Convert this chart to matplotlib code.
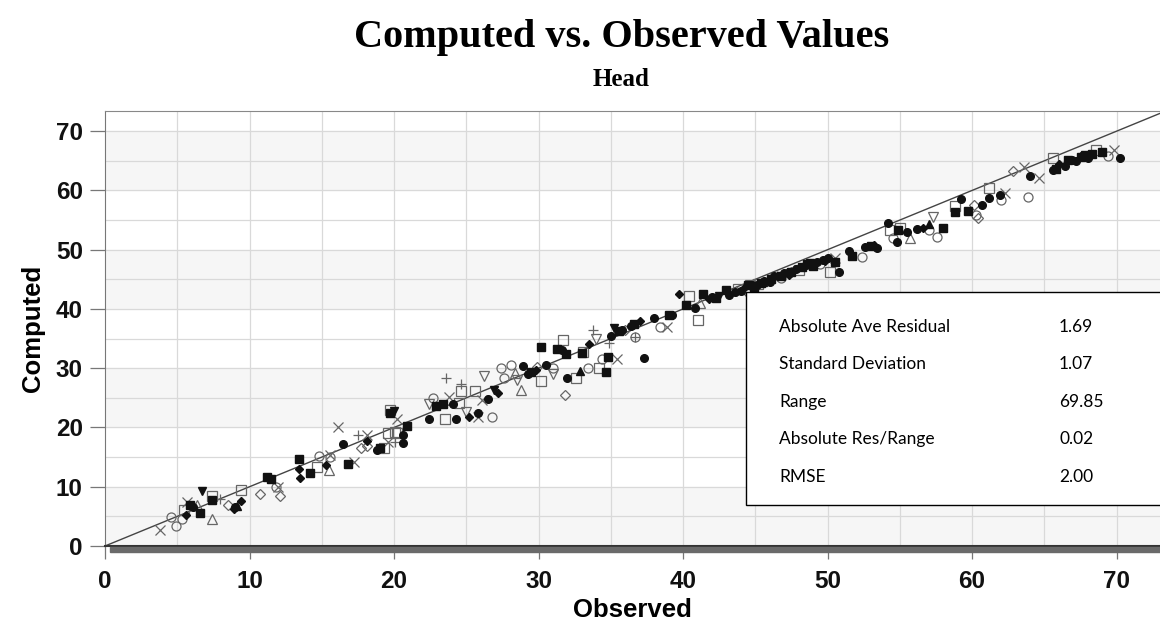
import matplotlib
matplotlib.use('Agg')
import matplotlib.pyplot as plt
from matplotlib.patches import Rectangle

# observed / computed heads, grouped by marker symbol as in the original plot
fc_obs = [6.1, 9.0, 16.5, 18.8, 20.6, 20.6, 22.4, 24.3, 24.1, 25.8, 26.5, 28.9, 29.3, 30.5, 32.0, 31.6,
          35.0, 35.8, 36.4, 37.3, 38.0, 39.2, 40.8, 42.0, 43.2, 44.0, 44.8, 45.6, 46.3, 47.0, 47.8, 48.5,
          49.3, 50.0, 50.8, 51.5, 52.6, 53.4, 54.2, 54.8, 55.5, 56.2, 59.2, 60.7, 61.2, 61.9, 64.0, 65.6,
          66.4, 67.2, 68.0, 70.2, 43.6, 45.1, 46.0, 47.3, 48.9, 49.7, 66.9, 67.7]
fc_comp = [6.6, 6.5, 17.2, 16.2, 18.7, 17.4, 21.4, 21.4, 23.9, 22.5, 24.8, 30.4, 29.0, 30.6, 28.3, 33.0,
           35.5, 36.5, 37.2, 31.8, 38.4, 39.0, 40.2, 42.0, 42.3, 43.0, 44.1, 44.7, 45.5, 46.0, 46.8, 47.4,
           48.0, 48.6, 46.3, 49.7, 50.5, 50.2, 54.5, 51.3, 53.0, 53.5, 58.6, 57.5, 58.8, 59.2, 62.4, 63.5,
           64.2, 65.0, 65.5, 65.5, 42.9, 44.0, 44.6, 46.3, 47.6, 48.3, 65.1, 65.9]

fs_obs = [5.9, 6.6, 7.4, 11.2, 11.5, 13.4, 14.2, 16.8, 19.0, 19.7, 20.9, 22.9, 23.4, 29.5, 30.2, 31.3,
          31.9, 33.0, 34.7, 34.8, 35.6, 36.6, 39.0, 40.2, 41.4, 43.0, 44.5, 45.4, 46.8, 47.5, 48.2, 49.0,
          50.5, 51.7, 53.0, 54.9, 58.0, 58.8, 59.7, 65.8, 66.6, 67.5, 68.3, 69.0, 42.3, 44.9, 46.1, 48.6]
fs_comp = [6.9, 5.5, 7.8, 11.6, 11.3, 14.7, 12.4, 13.8, 16.6, 22.4, 20.3, 23.6, 23.9, 29.3, 33.6, 33.2,
           32.4, 32.6, 29.4, 31.9, 36.2, 37.5, 38.9, 40.6, 42.6, 43.2, 44.1, 44.3, 45.6, 46.2, 47.0, 47.2,
           48.0, 49.0, 50.6, 53.3, 53.6, 56.4, 56.5, 63.6, 65.2, 65.7, 66.2, 66.5, 41.8, 43.6, 45.0, 47.5]

fd_obs = [5.6, 8.9, 9.4, 13.4, 13.5, 15.3, 18.1, 25.2, 27.2, 29.8, 33.5, 37.0, 39.7, 41.8, 44.2, 46.0,
          47.3, 49.8, 53.2, 56.6, 66.0]
fd_comp = [5.2, 6.3, 7.6, 13.0, 11.5, 13.7, 17.7, 21.8, 25.8, 29.7, 34.1, 38.0, 42.5, 41.6, 43.5, 45.0,
           45.7, 48.1, 50.8, 53.7, 64.5]

fv_obs = [6.7, 20.0, 26.9, 35.2, 42.5, 48.8, 67.8]
fv_comp = [9.2, 22.8, 26.4, 36.8, 42.2, 47.8, 66.0]

ft_obs = [9.1, 32.9, 57.0, 45.5]
ft_comp = [6.8, 29.6, 54.4, 44.6]

oc_obs = [4.9, 4.6, 5.3, 11.8, 14.8, 15.6, 22.7, 26.8, 27.4, 28.1, 27.6, 31.0, 33.4, 34.4, 38.4, 36.7,
          44.5, 49.5, 52.4, 54.5, 57.0, 57.6, 60.3, 62.0, 63.9, 69.4, 46.8]
oc_comp = [3.3, 4.9, 4.5, 10.0, 15.2, 15.0, 24.9, 21.8, 30.1, 30.5, 28.4, 30.0, 30.1, 31.5, 36.9, 35.3,
           43.2, 47.5, 48.8, 51.9, 53.4, 52.2, 55.9, 58.4, 58.9, 65.8, 45.2]

os_obs = [5.5, 7.4, 9.4, 14.7, 19.3, 19.6, 20.1, 20.2, 23.5, 24.5, 24.6, 25.6, 30.2, 31.7, 32.6, 33.1,
          34.2, 41.0, 40.4, 43.8, 45.2, 48.0, 50.2, 54.3, 55.0, 58.8, 61.2, 65.6, 68.6, 19.7]
os_comp = [6.1, 8.4, 9.4, 13.4, 16.5, 19.0, 19.2, 19.1, 21.4, 24.2, 26.2, 26.2, 27.9, 34.7, 28.3, 32.8,
           30.1, 38.2, 42.2, 43.4, 44.2, 46.6, 46.3, 53.3, 53.6, 57.3, 60.4, 65.5, 66.9, 23.0]

od_obs = [8.5, 10.7, 12.1, 17.7, 18.1, 29.9, 31.8, 47.5, 60.1, 60.4, 62.8, 36.0]
od_comp = [6.9, 8.7, 8.5, 16.6, 16.9, 30.2, 25.5, 46.3, 57.5, 55.4, 63.2, 36.5]

ou_obs = [6.4, 7.4, 15.5, 28.4, 28.8, 55.7, 41.2]
ou_comp = [6.9, 4.5, 12.8, 29.2, 26.3, 51.9, 41.0]

ov_obs = [22.4, 25.0, 26.2, 28.5, 31.0, 57.3, 34.0, 44.6]
ov_comp = [23.9, 22.6, 28.7, 28.0, 29.1, 55.5, 35.0, 44.0]

x_obs = [3.8, 5.65, 12.0, 15.6, 16.1, 17.2, 18.1, 19.6, 20.2, 23.8, 25.8, 26.1, 35.4, 38.9, 44.0, 62.3,
         64.6, 63.6, 69.8, 50.5]
x_comp = [2.7, 7.5, 9.9, 15.3, 20.1, 14.2, 18.7, 17.6, 21.5, 25.1, 21.8, 24.6, 31.6, 36.9, 43.0, 59.6,
          62.1, 64.0, 66.8, 48.6]

p_obs = [7.96, 17.5, 20.1, 23.6, 24.6, 33.8, 34.9, 36.7, 46.5]
p_comp = [7.9, 18.7, 17.5, 28.4, 27.4, 36.5, 34.2, 35.3, 45.5]

stat_names = ['Absolute Ave Residual', 'Standard Deviation', 'Range', 'Absolute Res/Range', 'RMSE']
stat_values = ['1.69', '1.07', '69.85', '0.02', '2.00']

W, H = 1160, 628
fig = plt.figure(figsize=(W / 100, H / 100), dpi=100)
ax = fig.add_axes([105 / W, (H - 546) / H, (W - 105) / W, 435 / H])
ax.set_xlim(0, 73.0)
ax.set_ylim(0, 73.4)

# alternating horizontal bands
for lo in [0, 20, 40, 60]:
    ax.axhspan(lo, lo + 10, color='#f6f6f6', zorder=0)
for v in range(5, 75, 5):
    ax.axvline(v, color='#d9d9d9', lw=0.9, zorder=1)
    ax.axhline(v, color='#d9d9d9', lw=0.9, zorder=1)

ax.plot([0, 80], [0, 80], color='#444444', lw=1.0, zorder=2)

black = '#111111'
grey = '#666666'
ms = 5.5
ax.plot(fc_obs, fc_comp, 'o', ms=ms, color=black, mec=black, ls='none', zorder=4)
ax.plot(fs_obs, fs_comp, 's', ms=ms, color=black, mec=black, ls='none', zorder=4)
ax.plot(fd_obs, fd_comp, 'D', ms=4.5, color=black, mec=black, ls='none', zorder=4)
ax.plot(fv_obs, fv_comp, 'v', ms=ms, color=black, mec=black, ls='none', zorder=4)
ax.plot(ft_obs, ft_comp, '^', ms=ms, color=black, mec=black, ls='none', zorder=4)
ax.plot(oc_obs, oc_comp, 'o', ms=ms + 1, mfc='none', mec=grey, mew=0.9, ls='none', zorder=3)
ax.plot(os_obs, os_comp, 's', ms=ms + 1, mfc='none', mec=grey, mew=0.9, ls='none', zorder=3)
ax.plot(od_obs, od_comp, 'D', ms=ms, mfc='none', mec=grey, mew=0.9, ls='none', zorder=3)
ax.plot(ou_obs, ou_comp, '^', ms=ms + 1, mfc='none', mec=grey, mew=0.9, ls='none', zorder=3)
ax.plot(ov_obs, ov_comp, 'v', ms=ms + 1, mfc='none', mec=grey, mew=0.9, ls='none', zorder=3)
ax.plot(x_obs, x_comp, 'x', ms=ms + 1, color=grey, mew=0.9, ls='none', zorder=3)
ax.plot(p_obs, p_comp, '+', ms=ms + 1.5, color=grey, mew=0.9, ls='none', zorder=3)

ax.set_xticks(range(0, 71, 10))
ax.set_yticks(range(0, 71, 10))
ax.tick_params(axis='y', direction='out', length=11, width=0.9, color='#777777', pad=5,
               labelsize=17.5)
ax.tick_params(axis='x', direction='out', length=9, width=0.9, color='#777777', pad=8,
               labelsize=17.5)
for lab in ax.get_xticklabels() + ax.get_yticklabels():
    lab.set_fontfamily('Liberation Sans')
    lab.set_fontweight('bold')
    lab.set_color('#111111')

ax.spines['right'].set_visible(False)
ax.spines['top'].set_color('#888888')
ax.spines['left'].set_color('#777777')
ax.spines['bottom'].set_color('#333333')
ax.spines['bottom'].set_linewidth(1.5)

# drop shadow under the x axis
fig.patches.append(Rectangle((110 / W, (H - 552) / H), (W - 110) / W, 5 / H,
                             transform=fig.transFigure, color='#6a6a6a', zorder=0))

ax.set_xlabel('Observed', fontsize=18.5, fontweight='bold', family='Liberation Sans', labelpad=4)
ax.set_ylabel('Computed', fontsize=18.5, fontweight='bold', family='Liberation Sans', labelpad=8)

fig.text(622 / W, 1 - 38 / H, 'Computed vs. Observed Values', ha='center', va='center',
         fontsize=29, fontweight='bold', family='Liberation Serif')
fig.text(621 / W, 1 - 79 / H, 'Head', ha='center', va='center',
         fontsize=18, fontweight='bold', family='Liberation Serif')

# statistics box
box = Rectangle((746 / W, (H - 505) / H), (W - 746 + 5) / W, 213 / H, transform=fig.transFigure,
                facecolor='white', edgecolor='black', lw=1.0, zorder=5)
fig.patches.append(box)
for i, (name, val) in enumerate(zip(stat_names, stat_values)):
    yy = 1 - (327 + i * 37.4) / H
    fig.text(779 / W, yy, name, ha='left', va='center', fontsize=12.5, family='Lato', zorder=6)
    fig.text(1059 / W, yy, val, ha='left', va='center', fontsize=12.5, family='Lato', zorder=6)

fig.savefig('out.png', dpi=100)
